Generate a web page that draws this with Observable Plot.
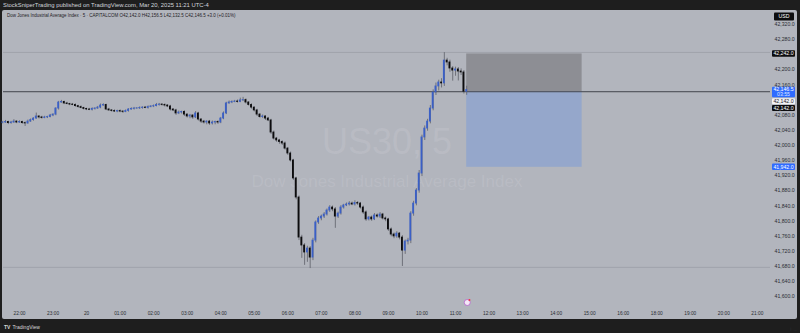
<!DOCTYPE html>
<html><head><meta charset="utf-8">
<script src="https://cdn.jsdelivr.net/npm/d3@7"></script>
<script src="https://cdn.jsdelivr.net/npm/@observablehq/plot@0.6"></script>
<style>
html,body{margin:0;padding:0;background:#1e1e1e;}
#wrap{position:relative;width:800px;height:333px;overflow:hidden;background:#1e1e1e;font-family:"Liberation Sans",Arial,sans-serif;}
#panel{position:absolute;left:2px;top:10px;width:795px;height:309px;background:#b2b5bd;border-radius:2px;}
#chart{position:absolute;left:0;top:0;}
#hdr{position:absolute;left:3px;top:2px;font-size:5.9px;color:#d1d4dc;white-space:nowrap;line-height:6px;}
#legend{position:absolute;left:7px;top:12.8px;font-size:4.5px;color:#1f2126;white-space:nowrap;line-height:5px;}
#foot{position:absolute;left:4px;top:323.5px;font-size:5px;color:#d8d8d8;white-space:nowrap;line-height:6px;}
#foot b{font-size:5px;margin-right:2px;}
</style></head><body>
<div id="wrap">
  <div id="panel"></div>
  <div id="chart"></div>
  <div id="hdr">StockSniperTrading published on TradingView.com, Mar 20, 2025 11:21 UTC-4</div>
  <div id="legend">Dow Jones Industrial Average Index · 5 · CAPITALCOM O42,142.0 H42,156.5 L42,132.5 C42,146.5 +3.0 (+0.01%)</div>
  <div id="foot"><b>TV</b>TradingView</div>
</div>
<script>
// ---- data (5-minute bars from 21:30 to 11:20) ----
const firstOpen = 42060;
const closes = [
  42060.5, 42062, 42059, 42060.5, 42063, 42060.5, 42062, 42059, 42058, 42063,
  42067, 42071, 42076.5, 42074, 42072.5, 42074, 42075, 42079, 42081.5, 42097.5,
  42113.5, 42115, 42111, 42109.5, 42108, 42107, 42104, 42101.5, 42099, 42096.5,
  42095, 42094, 42096.5, 42097.5, 42100, 42105.5, 42107, 42095, 42092.5, 42091,
  42089.5, 42091, 42089.5, 42088.5, 42091, 42095, 42096.5, 42097.5, 42098, 42099,
  42100, 42099, 42101.5, 42103, 42104, 42107, 42108, 42107, 42105.5, 42103,
  42095, 42092.5, 42084.5, 42087, 42088.5, 42081.5, 42076.5, 42079, 42074, 42084.5,
  42068.5, 42063, 42060.5, 42063, 42058, 42060.5, 42062, 42060.5, 42071, 42084.5,
  42111, 42113.5, 42115, 42116, 42115, 42119, 42120, 42113.5, 42107, 42100,
  42092.5, 42081.5, 42075, 42076.5, 42071, 42066, 42034, 42018, 42013, 42009,
  42005, 41991.5, 41978.5, 41960, 41912.5, 41862, 41756, 41735, 41716.5, 41727,
  41703, 41748, 41796, 41806.5, 41811.5, 41817, 41827.5, 41835.5, 41830.5, 41811.5,
  41819.5, 41835.5, 41841, 41843.5, 41846, 41843.5, 41847.5, 41846, 41835.5, 41822.5,
  41804, 41809, 41804, 41814.5, 41811.5, 41817, 41806.5, 41804, 41777.5, 41764,
  41759, 41766.5, 41756, 41721.5, 41745.5, 41748, 41819.5, 41846, 41880.5, 41925.5,
  42021, 42044.5, 42063, 42097.5, 42140, 42156, 42166.5, 42164, 42224.5, 42219.5,
  42203.5, 42198, 42201, 42195.5, 42193, 42142, 42146.5
];
const upWick = [
  3,4,2,3,5,2,3,2,3,4,  3,2,9,2,3,3,2,3,2,2,  3,4,2,3,2,3,3,2,3,2,  2,3,3,2,3,4,3,2,3,2,
  3,2,3,2,3,2,3,3,2,3,  2,3,3,2,3,4,3,2,3,2,  3,2,3,4,2,3,2,3,2,5,  3,2,3,2,3,4,2,3,3,4,
  3,4,3,3,4,6,7,3,2,3,  2,3,3,4,2,3,3,4,3,3,  3,4,3,4,3,3,4,6,5,6,  5,6,4,5,4,5,4,5,4,5,
  4,5,3,4,5,4,6,4,3,4,  4,3,4,5,4,5,3,4,3,4,  4,5,3,5,4,6,5,6,5,8,  6,7,6,8,7,9,6,10,21,6,
  6,5,6,5,7,5,10
];
const dnWick = [
  3,2,4,3,2,3,2,3,8,2,  2,3,2,4,3,2,3,2,3,3,  4,2,3,2,3,2,3,3,2,3,  3,2,3,3,2,3,2,3,2,3,
  2,3,3,4,2,3,2,3,2,3,  3,2,3,2,3,2,3,3,4,3,  4,3,5,3,4,5,4,6,5,3,  4,5,4,6,5,4,6,5,3,3,
  3,2,3,2,3,2,3,4,3,4,  4,5,3,4,5,3,5,4,5,6,  5,4,5,4,5,6,8,34,34,26, 29,8,6,5,6,5,4,5,6,31,
  5,4,4,3,4,3,4,5,4,5,  5,4,5,3,4,5,4,6,5,6,  6,5,6,42,10,9,8,7,6,7, 8,8,7,6,6,8,12,12,8,9,
  10,28,15,25,8,6,9.5
];
const priceTicks = [42320, 42280, 42200, 42160, 42080, 42040, 42000, 41960, 41920, 41880, 41840, 41800, 41760, 41720, 41680, 41640, 41600];
const timeTickBars = [6, 18, 30, 42, 54, 66, 78, 90, 102, 114, 126, 138, 150, 162, 174, 186, 198, 210, 222, 234, 246, 258, 270];
const timeTickLabels = ["22:00","23:00","20","01:00","02:00","03:00","04:00","05:00","06:00","07:00","08:00","09:00","10:00","11:00","12:00","13:00","14:00","15:00","16:00","18:00","19:00","20:00","21:00"];
const levelLines = [42246, 41677];
const entryPrice = 42142;
const stopPrice = 42242;
const targetPrice = 41942;
const boxStartBar = 166;
const boxEndBar = 207.3;
const eventBar = 166.2;
const watermarkTitle = "US30, 5";
const watermarkSub = "Dow Jones Industrial Average Index";
const lastPrice = 42146.5;
const countdown = "03:55";

// ---- build candles ----
const candles = closes.map((c, i) => {
  const o = i === 0 ? firstOpen : closes[i - 1];
  return {i, open: o, close: c, high: Math.max(o, c) + upWick[i], low: Math.min(o, c) - dnWick[i]};
});
const UP = "#3a5fc6", DOWN = "#0c0c0e";
const fmt = d3.format(",.1f");

const chart = Plot.plot({
  width: 800, height: 333,
  marginLeft: 3, marginRight: 30, marginTop: 10, marginBottom: 28,
  style: {background: "transparent", fontFamily: "'Liberation Sans', Arial, sans-serif", overflow: "visible"},
  x: {domain: [0.268, 274.7]},
  y: {domain: [41576.2, 42357.0]},
  marks: [
    Plot.text([watermarkTitle], {text: d => d, frameAnchor: "middle", dy: -16, fontSize: 36, fill: "#ffffff", fillOpacity: 0.1}),
    Plot.text([watermarkSub], {text: d => d, frameAnchor: "middle", dy: 24, fontSize: 17, fill: "#ffffff", fillOpacity: 0.1}),
    Plot.ruleY(levelLines, {stroke: "#9c9fa7", strokeWidth: 0.8}),
    Plot.rect([{a: stopPrice, b: entryPrice}], {x1: () => boxStartBar, x2: () => boxEndBar, y1: "a", y2: "b", fill: "#8d8e94"}),
    Plot.rect([{a: entryPrice, b: targetPrice}], {x1: () => boxStartBar, x2: () => boxEndBar, y1: "a", y2: "b", fill: "#95a7cb"}),
    Plot.ruleY([entryPrice], {stroke: "#42454c", strokeWidth: 1}),
    Plot.ruleX(candles, {x: "i", y1: "low", y2: "high", stroke: "#5d6068", strokeWidth: 0.8}),
    Plot.rect(candles, {x1: d => d.i - 0.33, x2: d => d.i + 0.33, y1: "open", y2: "close",
      fill: d => d.close >= d.open ? UP : DOWN, insetTop: -0.4, insetBottom: -0.4}),
    Plot.axisY(priceTicks, {anchor: "right", tickSize: 0, tickPadding: 4, tickFormat: fmt, fontSize: 5.2, color: "#2a2d33"}),
    Plot.axisX(timeTickBars, {anchor: "bottom", tickSize: 0, tickPadding: 6, fontSize: 4.8, color: "#2a2d33",
      tickFormat: d => timeTickLabels[timeTickBars.indexOf(d)]}),
    Plot.dot([eventBar], {x: d => d, frameAnchor: "bottom", dy: -3, r: 3, fill: "#f4e8f6", stroke: "#b55fcb", strokeWidth: 0.8}),
    Plot.dot([eventBar], {x: d => d, frameAnchor: "bottom", dx: 2.2, dy: -5.6, r: 1, fill: "#f23645"})
  ]
});
document.getElementById("chart").appendChild(chart);

// ---- price tags on the right scale ----
const ys = chart.scale("y");
const svg = d3.select(chart);
function tag(cy, h, bg, fg, lines, x0 = 772, w = 23) {
  const g = svg.append("g");
  g.append("rect").attr("x", x0).attr("y", cy - h / 2).attr("width", w).attr("height", h).attr("rx", 1).attr("fill", bg);
  const n = lines.length;
  lines.forEach((t, k) => {
    g.append("text").attr("x", x0 + w / 2).attr("y", cy + (k - (n - 1) / 2) * 5.2)
      .attr("dy", "0.35em").attr("text-anchor", "middle").attr("font-size", 5.2)
      .attr("fill", k === 0 ? fg : "#dfe6ff").text(t);
  });
}
tag(16.5, 8, "#0d0d0f", "#ffffff", ["USD"], 774, 20);
tag(ys.apply(stopPrice), 6.5, "#0d0d0f", "#ffffff", [fmt(stopPrice)]);
tag(ys.apply(lastPrice) + 2.5, 10.5, "#2f6bff", "#ffffff", [fmt(lastPrice), countdown]);
tag(ys.apply(entryPrice) + 10, 6, "#f4f4f6", "#1f2126", [fmt(entryPrice)]);
tag(ys.apply(entryPrice) + 16.8, 6, "#0d0d0f", "#ffffff", [fmt(entryPrice)]);
tag(ys.apply(targetPrice), 6.5, "#2f6bff", "#ffffff", [fmt(targetPrice)]);
</script>
</body></html>
